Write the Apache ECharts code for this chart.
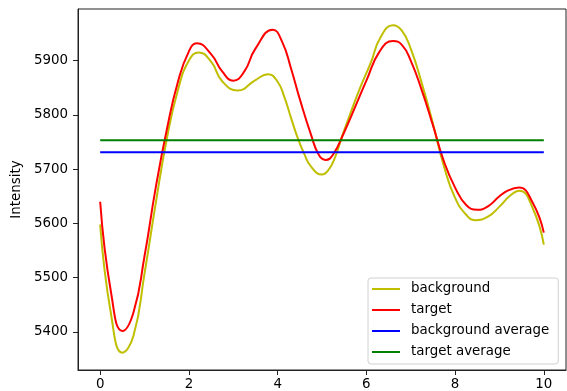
<!DOCTYPE html>
<html>
<head>
<meta charset="utf-8">
<script src="https://cdn.jsdelivr.net/npm/echarts@6/dist/echarts.min.js"></script>
<style>
  html, body { margin: 0; padding: 0; background: #fff; }
  #chart { width: 567px; height: 391px; }
</style>
</head>
<body>
<div id="chart"></div>
<script>
// background curve (x positions include the turning points)
var backgroundX = [0, 0.25, 0.5, 0.75, 1, 1.25, 1.5, 1.75, 2, 2.22, 2.5, 2.75, 3.1, 3.5, 3.78, 4,
  4.15, 4.3, 4.45, 4.6, 4.75, 5, 5.15, 5.3, 5.45, 5.65, 5.87, 6.1, 6.32, 6.6, 6.8, 7,
  7.25, 7.5, 7.75, 8, 8.25, 8.45, 8.75, 9, 9.25, 9.45, 9.75, 10];
var backgroundY = [5598, 5430, 5362, 5393, 5508, 5636, 5755, 5845, 5900, 5915, 5898, 5862, 5845,
  5864, 5875, 5861, 5833, 5795, 5758, 5728, 5705, 5690, 5699, 5723, 5760, 5805, 5852,
  5896, 5943, 5965, 5955, 5922, 5858, 5784, 5705, 5647, 5616, 5606, 5613, 5631, 5652,
  5660, 5628, 5561];

// target curve
var targetX = [0, 0.25, 0.5, 0.75, 1, 1.25, 1.5, 1.75, 2, 2.18, 2.5, 2.75, 3, 3.25, 3.5, 3.89,
  4.1, 4.3, 4.5, 4.75, 4.93, 5.08, 5.25, 5.5, 5.75, 6, 6.3, 6.6, 6.8, 7, 7.25, 7.5,
  7.75, 8, 8.25, 8.5, 8.75, 9, 9.2, 9.44, 9.75, 10];
var targetY = [5640, 5470, 5402, 5436, 5540, 5665, 5772, 5860, 5917, 5932, 5912, 5880, 5863,
  5880, 5922, 5957, 5935, 5886, 5829, 5764, 5726, 5717, 5727, 5768, 5815, 5863, 5917,
  5936, 5929, 5900, 5845, 5781, 5714, 5666, 5634, 5625, 5632, 5650, 5661, 5666, 5638, 5583];

var backgroundAverage = 5731;
var targetAverage = 5753;
var averageRange = [0, 10];

var xTicks = [0, 2, 4, 6, 8, 10];
var yTicks = [5400, 5500, 5600, 5700, 5800, 5900];

function pairs(xs, ys) {
    return xs.map(function (x, i) { return [x, ys[i]]; });
}

function flat(v) {
    return [[averageRange[0], v], [averageRange[1], v]];
}

var font = 'DejaVu Sans';
var chart = echarts.init(document.getElementById('chart'));

function lineSeries(name, color, data, smooth) {
    return {
        name: name,
        type: 'line',
        data: data,
        smooth: smooth,
        showSymbol: false,
        symbol: 'none',
        lineStyle: { color: color, width: 2 },
        itemStyle: { color: color },
        emphasis: { disabled: true }
    };
}

chart.setOption({
    animation: false,
    textStyle: { fontFamily: font },
    grid: {
        left: 78, right: 1, top: 9, bottom: 20,
        show: true, borderColor: '#222', borderWidth: 1
    },
    legend: {
        orient: 'vertical',
        left: 368, top: 278,
        padding: [4, 9, 5, 4],
        itemWidth: 28, itemHeight: 2, itemGap: 7,
        icon: 'rect',
        backgroundColor: 'rgba(255,255,255,0.8)',
        borderColor: '#d0d0d0', borderWidth: 1, borderRadius: 3,
        textStyle: { fontSize: 13.4, color: '#000', lineHeight: 14, padding: [0, 0, 0, 6] },
        data: ['background', 'target', 'background average', 'target average']
    },
    xAxis: {
        type: 'value',
        min: -0.5, max: 10.5,
        splitLine: { show: false },
        axisLine: { onZero: false, lineStyle: { color: '#222', width: 1 } },
        axisTick: { customValues: xTicks, length: 5, lineStyle: { color: '#222' } },
        axisLabel: { customValues: xTicks, fontSize: 13.4, color: '#000', margin: 8 }
    },
    yAxis: {
        type: 'value',
        min: 5330, max: 5995,
        name: 'Intensity',
        nameLocation: 'middle',
        nameGap: 51,
        nameTextStyle: { fontSize: 13.4, color: '#000' },
        splitLine: { show: false },
        axisLine: { show: true, onZero: false, lineStyle: { color: '#222', width: 1 } },
        axisTick: { show: true, customValues: yTicks, length: 5, lineStyle: { color: '#222' } },
        axisLabel: {
            customValues: yTicks, fontSize: 13.4, color: '#000', margin: 10,
            formatter: function (v) { return String(v); }
        }
    },
    series: [
        lineSeries('background', '#bfbf00', pairs(backgroundX, backgroundY), 0.5),
        lineSeries('target', '#ff0000', pairs(targetX, targetY), 0.5),
        lineSeries('background average', '#0000ff', flat(backgroundAverage), false),
        lineSeries('target average', '#008000', flat(targetAverage), false)
    ]
});
</script>
</body>
</html>
